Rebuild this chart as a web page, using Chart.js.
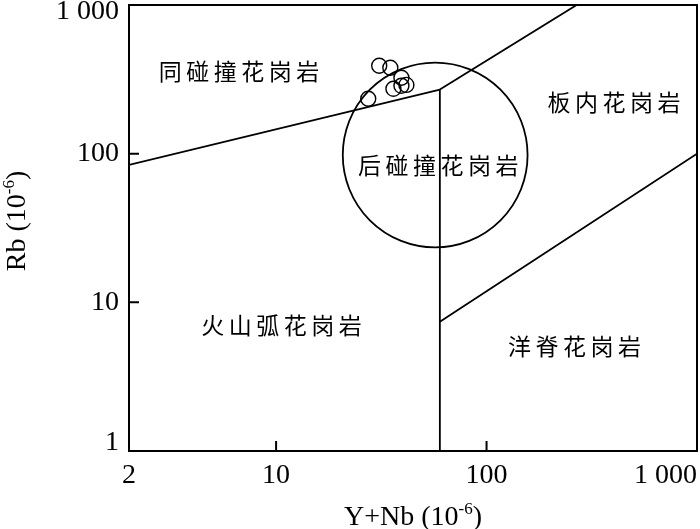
<!DOCTYPE html>
<html>
<head>
<meta charset="utf-8">
<script src="https://cdn.jsdelivr.net/npm/chart.js@4/dist/chart.umd.min.js"></script>
<style>
  body { margin: 0; background: #fff; }
  #wrap { width: 700px; height: 529px; position: relative; }
</style>
</head>
<body>
<div id="wrap"><canvas id="myChart"></canvas></div>
<script>
// axis ticks
const xTicks = [2, 10, 100, 1000];
const xTickLabels = ['2', '10', '100', '1 000'];
const yTicks = [1, 10, 100, 1000];
const yTickLabels = ['1', '10', '100', '1 000'];

// samples (Y+Nb, Rb)
const sampleYNb = [30.9, 34.9, 39.4, 36.1, 39.4, 41.6, 27.4];
const sampleRb = [390, 378, 324, 273, 286, 290, 234];

// field boundaries, as [Y+Nb, Rb] pairs
const vagSynBoundary = [[2, 84], [60, 270]];
const synWpgBoundary = [[60, 270], [268, 1000]];
const vagOrgBoundary = [[60, 1], [60, 270]];
const orgWpgBoundary = [[60, 7.4], [1000, 100]];

// post-collision field: centre and the Rb value at its top
const postColCentre = [57, 98];
const postColTopRb = 410;

// field names and where they sit (data units)
const fieldNames = ['同碰撞花岗岩', '后碰撞花岗岩', '板内花岗岩', '火山弧花岗岩', '洋脊花岗岩'];
const fieldYNb = [6.67, 59, 403, 10.6, 262];
const fieldRb = [360, 83, 220, 7.0, 5.1];

const toPts = arr => arr.map(p => ({ x: p[0], y: p[1] }));
const lineSet = arr => ({
  type: 'line',
  data: toPts(arr),
  borderColor: '#000',
  borderWidth: 1.8,
  pointRadius: 0,
  fill: false
});

const serif = '"Liberation Serif", "Times New Roman", serif';
const cjk = '"Noto Sans CJK SC", sans-serif';

function drawSupText(ctx, x, y, base, sup, tail, size, align) {
  ctx.font = size + 'px ' + serif;
  const supSize = Math.round(size * 0.6);
  const w1 = ctx.measureText(base).width;
  ctx.font = supSize + 'px ' + serif;
  const w2 = ctx.measureText(sup).width;
  ctx.font = size + 'px ' + serif;
  const w3 = ctx.measureText(tail).width;
  const total = w1 + w2 + w3;
  let sx = align === 'center' ? x - total / 2 : x;
  ctx.textAlign = 'left';
  ctx.textBaseline = 'alphabetic';
  ctx.fillText(base, sx, y);
  ctx.font = supSize + 'px ' + serif;
  ctx.fillText(sup, sx + w1, y - size * 0.38);
  ctx.font = size + 'px ' + serif;
  ctx.fillText(tail, sx + w1 + w2, y);
}

const decor = {
  id: 'decor',
  afterDatasetsDraw(chart) {
    const { ctx, chartArea: a, scales: { x, y } } = chart;
    ctx.save();
    ctx.strokeStyle = '#000';
    ctx.fillStyle = '#000';

    // post-collision circle
    ctx.save();
    ctx.beginPath();
    ctx.rect(a.left, a.top, a.right - a.left, a.bottom - a.top);
    ctx.clip();
    const cx = x.getPixelForValue(postColCentre[0]);
    const cy = y.getPixelForValue(postColCentre[1]);
    const r = cy - y.getPixelForValue(postColTopRb);
    ctx.lineWidth = 1.8;
    ctx.beginPath();
    ctx.arc(cx, cy, r, 0, Math.PI * 2);
    ctx.stroke();
    ctx.restore();

    // frame
    ctx.lineWidth = 2;
    ctx.strokeRect(a.left, a.top, a.right - a.left, a.bottom - a.top);

    // inner tick marks
    ctx.lineWidth = 2;
    ctx.beginPath();
    yTicks.forEach(v => {
      if (v === yTicks[0] || v === yTicks[yTicks.length - 1]) return;
      const py = y.getPixelForValue(v);
      ctx.moveTo(a.left, py); ctx.lineTo(a.left + 10, py);
    });
    xTicks.forEach(v => {
      if (v === xTicks[0] || v === xTicks[xTicks.length - 1]) return;
      const px = x.getPixelForValue(v);
      ctx.moveTo(px, a.bottom); ctx.lineTo(px, a.bottom - 10);
    });
    ctx.stroke();

    // tick labels
    ctx.font = '28px ' + serif;
    ctx.textBaseline = 'middle';
    ctx.textAlign = 'right';
    yTicks.forEach((v, i) => {
      let py = y.getPixelForValue(v);
      if (i === 0) py -= 8;
      if (i === yTicks.length - 1) py += 7;
      ctx.fillText(yTickLabels[i], a.left - 10, py);
    });
    xTicks.forEach((v, i) => {
      const px = x.getPixelForValue(v);
      if (i === xTicks.length - 1) {
        ctx.textAlign = 'right';
        ctx.fillText(xTickLabels[i], a.right, a.bottom + 25);
      } else {
        ctx.textAlign = 'center';
        ctx.fillText(xTickLabels[i], px, a.bottom + 25);
      }
    });

    // axis titles
    drawSupText(ctx, (a.left + a.right) / 2, 525, 'Y+Nb (10', '-6', ')', 28, 'center');
    ctx.save();
    ctx.translate(25, (a.top + a.bottom) / 2 - 7);
    ctx.rotate(-Math.PI / 2);
    drawSupText(ctx, 0, 0, 'Rb (10', '-6', ')', 28, 'center');
    ctx.restore();

    // field names
    ctx.font = '23px ' + cjk;
    ctx.textBaseline = 'middle';
    ctx.textAlign = 'center';
    const gap = 4.5;
    fieldNames.forEach((name, i) => {
      const px = x.getPixelForValue(fieldYNb[i]);
      const py = y.getPixelForValue(fieldRb[i]);
      const chars = [...name];
      const widths = chars.map(c => ctx.measureText(c).width);
      const total = widths.reduce((s, w) => s + w, 0) + gap * (chars.length - 1);
      let sx = px - total / 2;
      chars.forEach((c, k) => {
        ctx.fillText(c, sx + widths[k] / 2, py);
        sx += widths[k] + gap;
      });
    });
    ctx.restore();
  }
};

new Chart(document.getElementById('myChart'), {
  data: {
    datasets: [
      lineSet(vagSynBoundary),
      lineSet(synWpgBoundary),
      lineSet(vagOrgBoundary),
      lineSet(orgWpgBoundary),
      {
        type: 'scatter',
        data: sampleYNb.map((v, i) => ({ x: v, y: sampleRb[i] })),
        pointStyle: 'circle',
        pointRadius: 7.5,
        pointBackgroundColor: 'rgba(0,0,0,0)',
        pointBorderColor: '#000',
        pointBorderWidth: 1.4
      }
    ]
  },
  options: {
    responsive: true,
    maintainAspectRatio: false,
    animation: false,
    events: [],
    layout: { autoPadding: false, padding: { left: 129, right: 3, top: 5, bottom: 78 } },
    plugins: { legend: { display: false }, tooltip: { enabled: false } },
    scales: {
      x: { type: 'logarithmic', min: 2, max: 1000, display: false },
      y: { type: 'logarithmic', min: 1, max: 1000, display: false }
    }
  },
  plugins: [decor]
});
</script>
</body>
</html>
